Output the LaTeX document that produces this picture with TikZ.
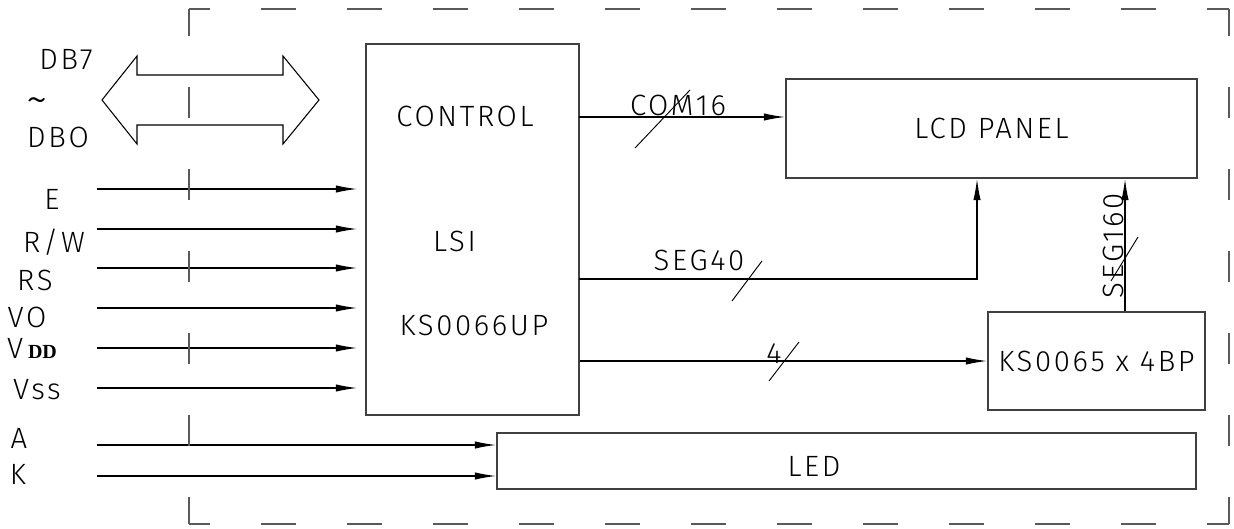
\documentclass[tikz,border=0pt]{standalone}
\usepackage{fontspec}
\setmainfont{Fira Sans}[UprightFont={* Light}, LetterSpace=9]
\newfontfamily\ddfont{Liberation Serif}
\usetikzlibrary{arrows.meta}

\begin{document}
\begin{tikzpicture}[x=0.75pt,y=0.75pt,yscale=-1,xscale=1,
  blk/.style={draw=black!75, line width=1.2pt, inner sep=0pt},
  sig/.style={draw=black, line width=0.9pt, -{Latex[length=16pt,width=5.5pt]}},
  txt/.style={inner sep=0pt, font=\fontsize{22}{26}\selectfont},
  tick/.style={draw=black, line width=0.7pt},
  hdash/.style={draw=black!65, line width=1.4pt, dash pattern=on 26.25pt off 38.25pt, dash phase=10.5pt},
  vdash/.style={draw=black!65, line width=1.4pt, dash pattern=on 23.25pt off 38.25pt, dash phase=3pt}]
\useasboundingbox (0,0) rectangle (1234,528);

%Shape: Rectangle [id:ctrl]
\node[blk, minimum width=159.75pt, minimum height=278.25pt] (ctrl) at (472.5,229.5) {};
%Shape: Rectangle [id:lcd]
\node[blk, txt, minimum width=308.25pt, minimum height=74.25pt] (lcd) at (991.5,128.5) {LCD PANEL};
%Shape: Rectangle [id:drv]
\node[blk, txt, minimum width=162.75pt, minimum height=73.5pt] (drv) at (1096.5,361) {KS0065 x 4BP};
%Shape: Rectangle [id:led]
\node[blk, minimum width=524.25pt, minimum height=42pt] (led) at (846.5,461) {};

% Text Node
\node[txt] (ctrltxt) at (465,116) {CONTROL};
% Text Node
\node[txt] (lsitxt) at (454.5,241) {LSI};
% Text Node
\node[txt] (ictxt) at (474,325) {KS0066UP};
% Text Node
\node[txt] (ledtxt) at (814,466) {LED};

%Shape: Double Arrow [id:bus]
\draw[line width=0.8pt] (102,100) -- (137,56) -- (137,75) -- (283,75) -- (283,56) -- (319,100) -- (283,144) -- (283,125) -- (137,125) -- (137,144) -- cycle;
% Text Node
\node[txt] (db7) at (66,60) {DB7};
\node[txt, font=\fontsize{34}{34}\selectfont] (tld) at (37,106) {\textasciitilde};
\node[txt] (db0) at (58,137) {DBO};

%Straight Lines: inputs
\foreach \y/\n in {189/E,229/RW,268/RS,308/VO,348/VDD,388/VSS}{
  \coordinate (in\n) at (97,\y);
  \draw[sig, shorten >=6pt] (in\n) -- (in\n -| ctrl.west);
}
\coordinate (inA) at (97,445);
\coordinate (inK) at (97,476);
\draw[sig] (inA) -- (inA -| led.west);
\draw[sig] (inK) -- (inK -| led.west);

% Text Node
\node[txt] (lblE) at (52,199) {E};
\node[txt] (lblRW) at (54,242) {R/W};
\node[txt] (lblRS) at (35,280) {RS};
\node[txt] (lblVO) at (27,317) {VO};
\node[txt] (lblVDD) at (32,348) {V\,{\ddfont\bfseries\fontsize{15}{15}\selectfont DD}};
\node[txt] (lblVSS) at (37,390) {Vss};
\node[txt] (lblA) at (19,438) {A};
\node[txt] (lblK) at (18,474) {K};

%Straight Lines: outputs
\coordinate (comout) at (579,117);
\coordinate (segout) at (579,279);
\coordinate (seg40x) at (977,0);
\coordinate (seg160x) at (1125,0);
\draw[sig] (comout) -- (comout -| lcd.west);
\draw[sig] (segout) -| (lcd.south -| seg40x);
\draw[sig] (ctrl.east |- drv.west) -- (drv.west);
\draw[sig] (drv.north -| seg160x) -- (lcd.south -| seg160x);

%Straight Lines: bus slashes
\draw[tick] (635,148) -- (690,90);
\draw[tick] (732,301) -- (762,261);
\draw[tick] (769,381) -- (799,342);
\draw[tick] (1111,281) -- (1138,237);

% Text Node
\node[txt] (com16) at (678,105.5) {COM16};
\node[txt] (seg40) at (699,260) {SEG40};
\node[txt] (four) at (774,354) {4};
\node[txt, rotate=90] (seg160) at (1113,246) {SEG160};

%Dashed frame
\draw[hdash] (189,9) -- (1229,9);
\draw[hdash] (189,524) -- (1229,524);
\draw[vdash] (189,9) -- (189,524);
\draw[vdash] (1229,9) -- (1229,524);

\end{tikzpicture}
\end{document}
